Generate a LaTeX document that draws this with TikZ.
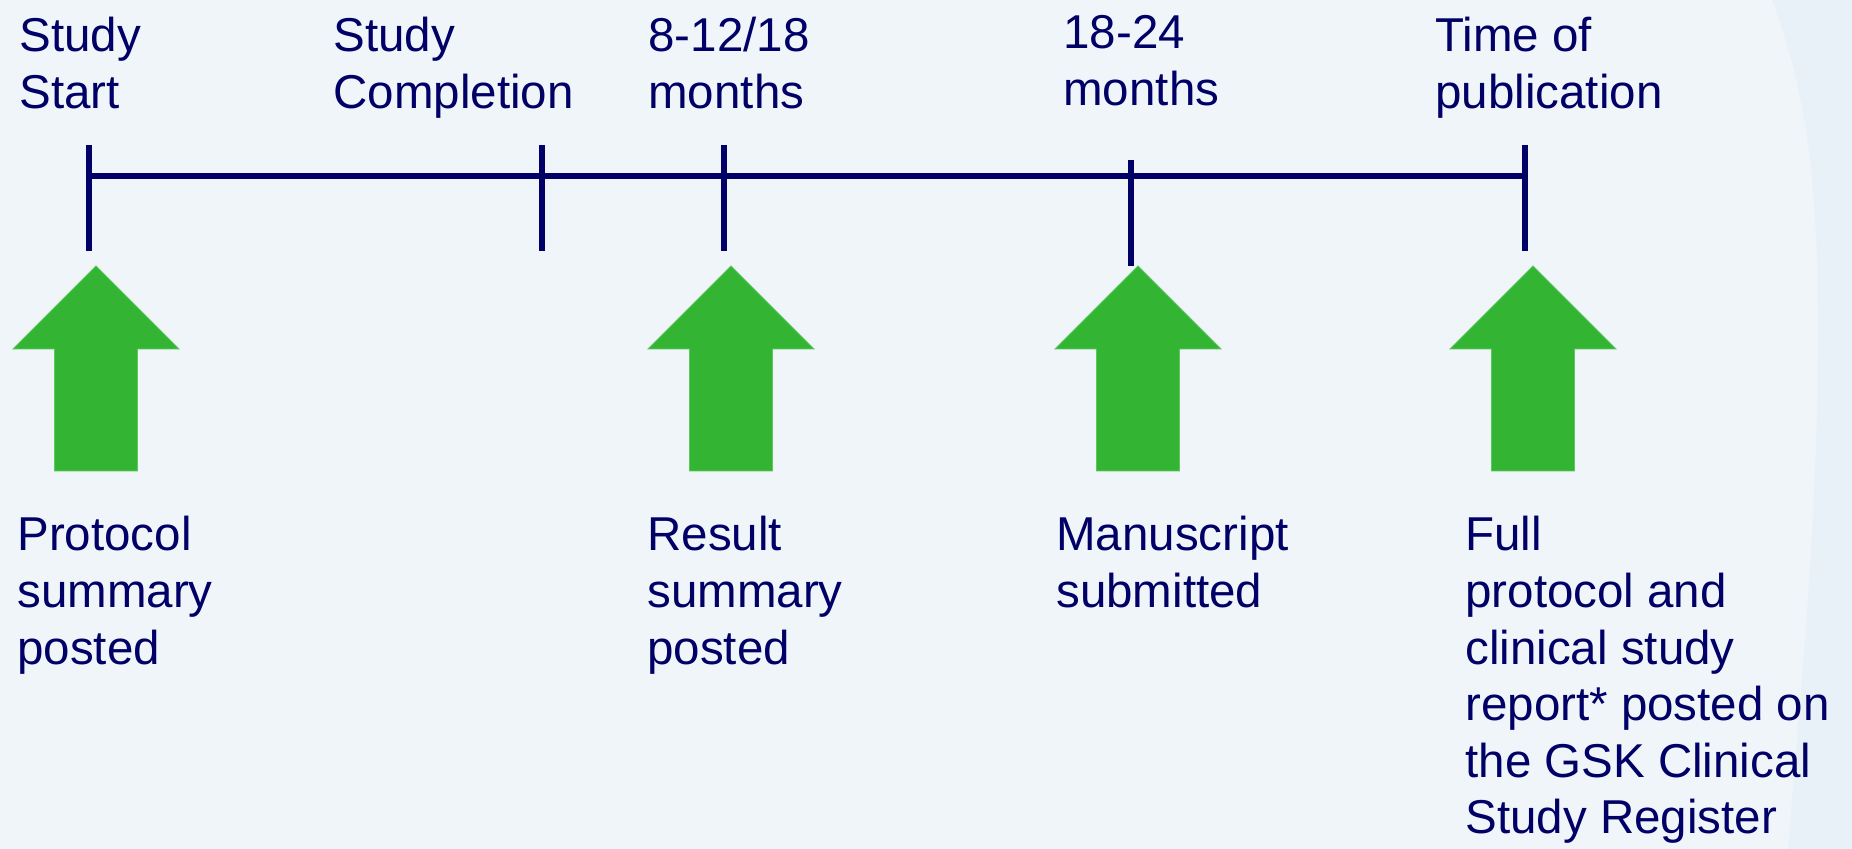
\documentclass[tikz,border=0pt]{standalone}
\usepackage{fontspec}
\setmainfont{Liberation Sans}
\usepackage{xcolor}
\definecolor{bgblue}{RGB}{240,245,250}
\definecolor{sideblue}{RGB}{232,240,248}
\definecolor{navy}{RGB}{0,0,102}
\definecolor{arrowgreen}{RGB}{51,181,51}
\definecolor{arrowedge}{RGB}{92,200,92}
\newcommand{\stacklines}[1]{\begin{tabular}[t]{@{}l@{}}#1\end{tabular}}

\begin{document}
\begin{tikzpicture}[x=0.5pt,y=-0.5pt,
  tline/.style={color=navy,line width=3pt},
  uparrow/.style={fill=arrowgreen,draw=arrowedge,line width=0.4pt},
  lbl/.style={anchor=base west,inner sep=0pt,text=navy,
    font=\fontsize{23.75}{28.3}\selectfont}]
\useasboundingbox (0,0) rectangle (1852,849);
\fill[color=bgblue] (0,0) rectangle (1852,849);
\fill[color=sideblue] (1772,0) .. controls (1802,80) and (1816,160) .. (1818,300)
  .. controls (1820,500) and (1800,700) .. (1788,849) -- (1852,849) -- (1852,0) -- cycle;
% Drawing the time line
\coordinate (t1) at (89,176);
\coordinate (t2) at (542,176);
\coordinate (t3) at (724,176);
\coordinate (t4) at (1131,176);
\coordinate (t5) at (1525,176);
\draw[tline] (t1) -- (t5);
% Ticks
\draw[tline] ([yshift=15.5pt]t1) -- ([yshift=-37.5pt]t1);
\draw[tline] ([yshift=15.5pt]t2) -- ([yshift=-37.5pt]t2);
\draw[tline] ([yshift=15.5pt]t3) -- ([yshift=-37.5pt]t3);
\draw[tline] ([yshift=8pt]t4) -- ([yshift=-45pt]t4);
\draw[tline] ([yshift=15.5pt]t5) -- ([yshift=-37.5pt]t5);
% Labels above the line
\node[lbl] (start) at (19,52) {\stacklines{Study\\Start}};
\node[lbl] (compl) at (333,52) {\stacklines{Study\\Completion}};
\node[lbl] (early) at (648,52) {\stacklines{8-12/18\\months}};
\node[lbl] (late) at (1063,49) {\stacklines{18-24\\months}};
\node[lbl] (pub) at (1435,52) {\stacklines{Time of\\publication}};
% Done with the line; drawing arrows
\foreach \ax/\name in {96/a1,731/a2,1138/a3,1533/a4}{
  \coordinate (\name) at (\ax,266);
  \filldraw[uparrow] (\name) -- ++(83,83) -- ++(-41.5,0) -- ++(0,122)
    -- ++(-83,0) -- ++(0,-122) -- ++(-41.5,0) -- cycle;
}
% Labels below the arrows
\node[lbl] (protocol) at (17,551) {\stacklines{Protocol\\summary\\posted}};
\node[lbl] (result) at (647,551) {\stacklines{Result\\summary\\posted}};
\node[lbl] (manuscript) at (1056,551) {\stacklines{Manuscript\\submitted}};
\node[lbl] (full) at (1465,551) {\stacklines{Full\\protocol and\\clinical study\\report* posted on\\the GSK Clinical\\Study Register}};
\end{tikzpicture}
\end{document}
